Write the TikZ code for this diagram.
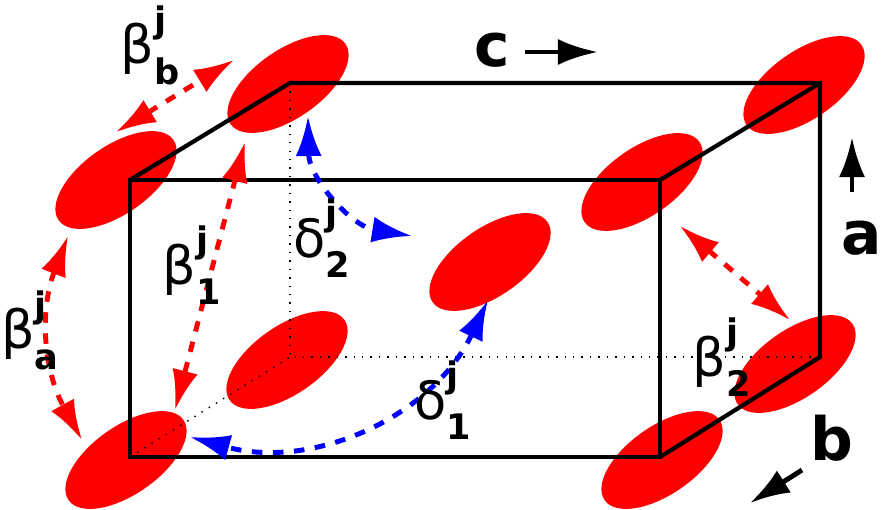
\documentclass[tikz,border=0pt]{standalone}
\usepackage{fontspec}
\setmainfont{DejaVu Sans}
\usetikzlibrary{arrows.meta,shapes.geometric}
\newcommand{\lbl}[3]{#1\rlap{\raisebox{1.1ex}{\fontsize{10}{12}\selectfont\bfseries #2}}\raisebox{-0.7ex}{\fontsize{10}{12}\selectfont\bfseries #3}}
\tikzset{
  blob/.style={ellipse, fill=red, minimum width=1.4cm, minimum height=0.68cm, rotate=35, inner sep=0pt},
  redarr/.style={red, dashed, line width=1.4pt, {Latex[length=4mm,width=2.6mm]}-{Latex[length=4mm,width=2.6mm]}},
  bluearr/.style={blue, dashed, line width=1.4pt, {Latex[length=4mm,width=2.6mm]}-{Latex[length=4mm,width=2.6mm]}},
  axarr/.style={black, line width=1.4pt, -{Latex[length=4mm,width=2.6mm]}},
  lab/.style={font=\fontsize{15}{18}\selectfont}
}
\begin{document}
\begin{tikzpicture}[x=0.01cm,y=-0.01cm]
    \useasboundingbox (0,0) rectangle (886,509);
    % molecules
    \node[blob] (m1) at (288,84) {};
    \node[blob] (m2) at (116,180) {};
    \node[blob] (m3) at (804,85) {};
    \node[blob] (m4) at (642,182) {};
    \node[blob] (m5) at (490,262) {};
    \node[blob] (m6) at (287,360) {};
    \node[blob] (m7) at (126,460) {};
    \node[blob] (m8) at (795,364) {};
    \node[blob] (m9) at (662,460) {};
    % hidden edges
    \draw[dotted] (290,83) -- (290,357) -- (820,357);
    \draw[dotted] (130,457) -- (290,357);
    % cell
    \draw[line width=1.2pt] (130,180) rectangle (660,457);
    \draw[line width=1.2pt] (130,180) -- (290,83) -- (820,83) -- (820,357) -- (660,457);
    \draw[line width=1.2pt] (660,180) -- (820,83);
    % couplings
    \draw[redarr] (116,132) -- (234,60);
    \draw[redarr] (245,142) -- (175,410);
    \draw[redarr] (68,236) to[bend right=25] (82,440);
    \draw[redarr] (680,226) -- (790,320);
    \draw[bluearr] (308,116) to[bend right=40] (412,236);
    \draw[bluearr] (488,300) to[bend left=40] (190,437);
    % labels
    \node[lab] (bb) at (150,45) {\lbl{β}{j}{b}};
    \node[lab] (b1) at (192,265) {\lbl{β}{j}{1}};
    \node[lab] (ba) at (30,330) {\lbl{β}{j}{a}};
    \node[lab] (b2) at (722,357) {\lbl{β}{j}{2}};
    \node[lab] (d2) at (322,238) {\lbl{δ}{j}{2}};
    \node[lab] (d1) at (443,400) {\lbl{δ}{j}{1}};
    % axes
    \node[lab, font=\fontsize{17}{20}\selectfont\bfseries] (c) at (492,50) {c};
    \draw[axarr] (525,52) -- (598,52);
    \node[lab, font=\fontsize{17}{20}\selectfont\bfseries] (a) at (862,238) {a};
    \draw[axarr] (852,192) -- (852,137);
    \node[lab, font=\fontsize{17}{20}\selectfont\bfseries] (b) at (832,438) {b};
    \draw[axarr] (802,470) -- (750,503);
\end{tikzpicture}
\end{document}
